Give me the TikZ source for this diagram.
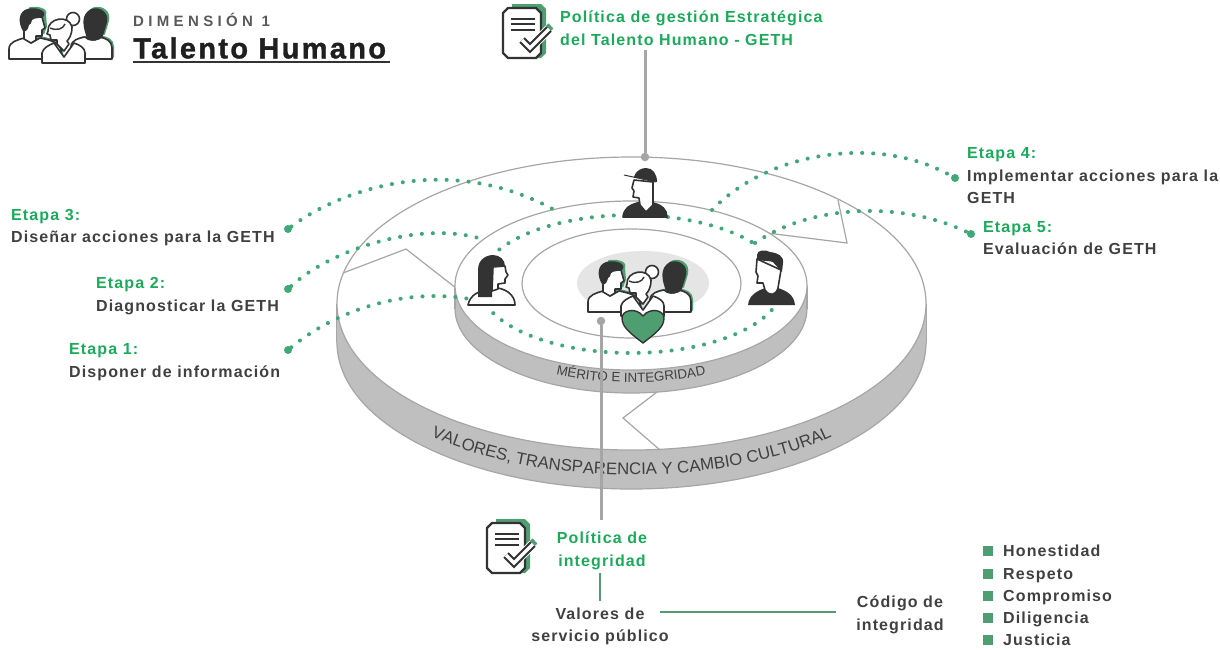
\documentclass[tikz,border=0pt]{standalone}
\usepackage{fontspec}
\usepackage{tikz}
\usetikzlibrary{shapes.geometric,decorations.text}
\setmainfont{Liberation Sans}
\newfontfamily\spaced[LetterSpace=7]{Liberation Sans}
\newfontfamily\wide[LetterSpace=29]{Liberation Sans}
\newfontfamily\heavy[LetterSpace=8,BoldFeatures={FakeBold=1.2}]{Liberation Sans}
\definecolor{inkdark}{HTML}{333333}
\definecolor{textdark}{HTML}{404040}
\definecolor{titlegreen}{HTML}{1AAB5A}
\definecolor{leafgreen}{HTML}{4F9E72}
\definecolor{dotgreen}{HTML}{3FA877}
\definecolor{rimgray}{HTML}{BFBFBF}
\definecolor{edgegray}{HTML}{A6A6A6}
\tikzset{
	disc/.style={shape=ellipse,draw=edgegray,fill=white,inner sep=0pt,line width=1.2pt},
	rim/.style={disc,fill=rimgray},
	fold/.style={draw=edgegray,line width=1.2pt},
	leader/.style={draw=edgegray,line width=3pt},
	greenline/.style={draw=leafgreen,line width=2.8pt},
	dotline/.style={draw=dotgreen,line width=4pt,line cap=round,dash pattern=on 0.1pt off 10.9pt},
	enddot/.style={shape=circle,fill=dotgreen,inner sep=0pt,minimum size=8pt},
	graydot/.style={shape=circle,fill=edgegray,inner sep=0pt,minimum size=8.5pt},
	stage/.style={align=left,font=\spaced\bfseries\fontsize{16}{22.5}\selectfont,text=textdark,inner sep=0pt},
	centred/.style={align=center,font=\spaced\bfseries\fontsize{16}{22.5}\selectfont,text=textdark,inner sep=0pt},
	bullet/.style={shape=rectangle,fill=leafgreen,inner sep=0pt,minimum size=10pt},
	virtue/.style={anchor=base west,font=\spaced\bfseries\fontsize{16}{22}\selectfont,text=textdark,inner sep=0pt},
	person/.style={draw=inkdark,fill=white,line width=1.6pt,line join=round},
	hair/.style={fill=inkdark},
	pics/docicon/.style={code={
		\fill[leafgreen] (9,-4) -- (38,-4) -- (43,1) -- (43,45) -- (38,50) -- (9,50) -- cycle;
		\draw[leafgreen,line width=7pt] (30,34) -- (48,18);
		\draw[person,line width=2.4pt] (5,0) -- (33,0) -- (38,5) -- (38,45) -- (33,50) -- (5,50) -- (0,45) -- (0,5) -- cycle;
		\foreach \liney in {11,16,22}
			\draw[inkdark,line width=1.8pt] (8,\liney) -- (32,\liney);
		\draw[white,line width=9.5pt] (19,32) -- (27,40) -- (46,21);
		\draw[inkdark,line width=7.5pt,line join=miter] (19,32) -- (27,40) -- (46,21);
		\draw[white,line width=3.5pt,line join=miter] (19,32) -- (27,40) -- (46,21);
	}},
	pics/teamicon/.style={code={
		% right person with its green shadow
		\begin{scope}[shift={(2,-1.5)}]
			\fill[leafgreen] (62,52) -- (62,40) .. controls (62,33) and (70,31) .. (76,30) -- (90,30) .. controls (97,31) and (103,34) .. (103,41) -- (103,52) -- cycle;
			\fill[leafgreen] (78,31) .. controls (74,20) and (71,8) .. (82,2) .. controls (92,-1) and (100,6) .. (98,15) .. controls (97,20) and (95,24) .. (94,29) -- cycle;
		\end{scope}
		\draw[person] (62,52) -- (62,40) .. controls (62,33) and (70,31) .. (76,30) .. controls (80,34) and (86,34) .. (90,30) .. controls (97,31) and (103,34) .. (103,41) -- (103,52) -- cycle;
		\fill[hair] (78,31) .. controls (74,20) and (71,8) .. (82,2) .. controls (92,-1) and (100,6) .. (98,15) .. controls (97,20) and (95,24) .. (94,29) .. controls (90,35) and (82,35) .. (78,31) -- cycle;
		% left man
		\begin{scope}[shift={(2,-1.5)}]
			\fill[leafgreen] (18,2) .. controls (24,0) and (38,2) .. (35,9) -- (36,21) -- (33,29) -- (20,18) -- cycle;
			\fill[leafgreen] (15,31) -- (31,31) .. controls (42,33) and (50,36) .. (52,42) -- (52,52) -- (20,52) -- cycle;
		\end{scope}
		\draw[person] (0,52) -- (0,42) .. controls (0,35) and (8,33) .. (15,31) -- (22,36) -- (31,31) .. controls (42,33) and (50,36) .. (52,42) -- (52,52) -- cycle;
		\draw[person] (15,32) -- (15,18) -- (20,10) -- (33,10) -- (36,21) -- (33,23) -- (33,29) -- (27,29) -- (27,33) -- (22,36) -- cycle;
		\fill[hair] (14,24) .. controls (9,16) and (9,5) .. (18,2) .. controls (24,0) and (38,2) .. (35,9) .. controls (33,12) and (26,10) .. (23,13) .. controls (22,16) and (22,18) .. (20,18) .. controls (19,22) and (18,25) .. (14,24) -- cycle;
		% woman in front
		\draw[person] (33,56) -- (33,46) .. controls (34,41) and (40,38) .. (45,36) -- (55,50) -- (65,36) .. controls (71,38) and (76,41) .. (76,46) -- (76,56) -- cycle;
		\draw[person] (64,12) circle (6.5);
		\draw[person] (39,24) .. controls (38,11) and (60,7) .. (63,20) .. controls (63,28) and (60,32) .. (58,34) -- (60,37) -- (55,44) -- (48,37) -- (48,33) -- (42,33) -- (41,28) -- (38,27) -- cycle;
		\draw[inkdark,line width=1.4pt] (41,21) .. controls (48,24) and (54,22) .. (56,17);
	}}
}
\begin{document}
\begin{tikzpicture}[x=1pt,y=-1pt]
	\useasboundingbox (0,0) rectangle (1220,649);

	% outer disc
	\node[rim,minimum width=589pt,minimum height=293pt] (outerrim) at (631.5,342.5) {};
	\fill[rimgray] (336.5,303.5) rectangle (926.5,342.5);
	\draw[fold] (336.5,303.5) -- (336.5,342.5);
	\draw[fold] (926.5,303.5) -- (926.5,342.5);
	\node[disc,minimum width=589pt,minimum height=293pt] (outerface) at (631.5,303.5) {};
	\path[decorate,decoration={text along path,text align=center,
		text format delimiters={|}{|},
		text={|\fontsize{16.8}{17}\selectfont\color{textdark}|VALORES, TRANSPARENCIA Y CAMBIO CULTURAL}}]
		plot[domain=140:40,samples=50] ({631.5+294*cos(\x)},{331+144*sin(\x)});

	% folds of the outer ring
	\draw[fold] (343,273) -- (406,249) -- (456,288);
	\draw[fold] (767,233) -- (847,243) -- (838,200);
	\draw[fold] (657,392) -- (623,418) -- (660,450);

	% inner disc
	\node[rim,minimum width=352pt,minimum height=169pt] (innerrim) at (631,308.5) {};
	\fill[rimgray] (455,285.5) rectangle (807,308.5);
	\draw[fold] (455,285.5) -- (455,308.5);
	\draw[fold] (807,285.5) -- (807,308.5);
	\node[disc,minimum width=352pt,minimum height=169pt] (innerface) at (631,285.5) {};
	\path[decorate,decoration={text along path,text align=center,
		text format delimiters={|}{|},
		text={|\fontsize{13.4}{14}\selectfont\color{textdark}|MÉRITO E INTEGRIDAD}}]
		plot[domain=122:58,samples=40] ({631+176*cos(\x)},{298+84.5*sin(\x)});
	\node[disc,minimum width=219pt,minimum height=109pt] (core) at (631.5,283.5) {};
	\node[shape=ellipse,fill=black!10,inner sep=0pt,minimum width=132pt,minimum height=64pt] (halo) at (643,283) {};

	% dotted ring on the inner disc
	\draw[dotline] plot[domain=210:264,samples=20] ({631+152*cos(\x)},{284+69*sin(\x)});
	\draw[dotline] plot[domain=284:324,samples=20] ({631+152*cos(\x)},{284+69*sin(\x)});
	\draw[dotline] plot[domain=155:20,samples=50] ({631+152*cos(\x)},{284+69*sin(\x)});

	% stage labels
	\node[stage,anchor=west] (etapa3) at (11,227.5) {\textcolor{titlegreen}{Etapa 3:}\\Diseñar acciones para la GETH};
	\node[stage,anchor=west] (etapa2) at (96,296) {\textcolor{titlegreen}{Etapa 2:}\\Diagnosticar la GETH};
	\node[stage,anchor=west] (etapa1) at (69,362) {\textcolor{titlegreen}{Etapa 1:}\\Disponer de información};
	\node[stage,anchor=west] (etapa4) at (967,176) {\textcolor{titlegreen}{Etapa 4:}\\Implementar acciones para la\\GETH};
	\node[stage,anchor=west] (etapa5) at (983,238) {\textcolor{titlegreen}{Etapa 5:}\\Evaluación de GETH};

	% stage connectors
	\node[enddot] (dot3) at (288,229) {};
	\node[enddot] (dot2) at (288,289) {};
	\node[enddot] (dot1) at (288,350) {};
	\node[enddot] (dot4) at (955,178) {};
	\node[enddot] (dot5) at (971,234) {};
	\coordinate (end3) at (558,212);
	\coordinate (end2) at (482,239);
	\coordinate (end1) at (475,300);
	\coordinate (end4) at (712,210);
	\coordinate (end5) at (755,243);
	\draw[dotline] (dot3) .. controls (340,190) and (450,150) .. (end3);
	\draw[dotline] (dot2) .. controls (330,250) and (420,220) .. (end2);
	\draw[dotline] (dot1) .. controls (330,315) and (400,285) .. (end1);
	\draw[dotline] (end4) .. controls (770,150) and (880,135) .. (dot4);
	\draw[dotline] (end5) .. controls (810,205) and (900,200) .. (dot5);

	% cap person
	\draw[person,fill=inkdark] (623,217) .. controls (624,208) and (630,205) .. (637,203) -- (653,203) .. controls (662,205) and (667,210) .. (667,217) -- cycle;
	\draw[person] (634,180) -- (632,188) -- (634,191) -- (633,197) -- (639,198) -- (640,205) -- (646,212) -- (653,205) -- (653,182) -- cycle;
	\fill[hair] (634,177) .. controls (636,170) and (642,168) .. (646,168) .. controls (653,168) and (657,174) .. (657,182) -- cycle;
	\draw[inkdark,line width=1pt] (624,175) -- (656,182);
	% woman
	\draw[person] (468,305) .. controls (470,295) and (478,291) .. (492,288) -- (498,288) .. controls (508,290) and (515,296) .. (515,305) -- cycle;
	\draw[person] (493,267) -- (505,266) -- (506,272) -- (508,275) -- (505,279) -- (505,283) -- (498,284) -- (498,289) -- (492,291) -- cycle;
	\fill[hair] (478,297) -- (478,270) .. controls (478,258) and (488,255) .. (493,255) .. controls (500,255) and (505,260) .. (505,266) -- (493,267) -- (492,297) -- cycle;
	% man
	\fill[inkdark] (748,305) .. controls (749,295) and (757,291) .. (765,288) -- (778,288) .. controls (787,291) and (794,295) .. (795,305) -- cycle;
	\draw[person] (757,259) -- (756,272) -- (758,276) -- (757,283) -- (763,283) -- (765,290) .. controls (770,297) and (776,295) .. (778,288) -- (781,270) -- cycle;
	\fill[hair] (757,255) .. controls (757,250) and (765,249) .. (770,252) .. controls (778,253) and (784,256) .. (783,263) -- (782,272) .. controls (778,267) and (775,265) .. (773,262) .. controls (768,260) and (762,262) .. (757,259) -- cycle;

	% group in the centre
	\pic at (588,260) {teamicon};
	\draw[draw=inkdark,fill=leafgreen,line width=1.4pt,line join=round] (643,343) .. controls (630,333) and (622,327) .. (622,318) .. controls (622,310) and (636,307) .. (643,316) .. controls (650,307) and (664,310) .. (664,318) .. controls (664,327) and (656,333) .. (643,343) -- cycle;

	% title
	\pic at (9,7) {teamicon};
	\node[anchor=west,inner sep=0pt,text=black!65,font=\wide\bfseries\fontsize{15}{15}\selectfont] (dimension) at (133,20) {DIMENSIÓN 1};
	\node[anchor=west,inner sep=0pt,text=black!88,font=\heavy\bfseries\fontsize{29}{29}\selectfont] (talento) at (133,48) {Talento Humano};
	\coordinate (ruleleft) at (133,62);
	\coordinate (ruleright) at (390,62);
	\draw[inkdark,line width=1.6pt] (ruleleft) -- (ruleright);

	% upper policy
	\pic at (503,8) {docicon};
	\node[stage,anchor=west,text=titlegreen] (gethpolicy) at (560,28) {Política de gestión Estratégica\\del Talento Humano - GETH};
	\coordinate (gethfoot) at (645,50);
	\node[graydot] (gethdot) at (645,157) {};
	\draw[leader] (gethfoot) -- (gethdot);

	% lower policy
	\node[graydot] (coredot) at (601,321) {};
	\coordinate (corefoot) at (601,520);
	\draw[leader] (coredot) -- (corefoot);
	\pic at (487,523) {docicon};
	\node[centred,text=titlegreen] (integridad) at (602,551) {Política de\\integridad};
	\node[centred] (valores) at (600,626.5) {Valores de\\servicio público};
	\node[centred] (codigo) at (900,615) {Código de\\integridad};
	\coordinate (stemtop) at (600,573);
	\coordinate (stembottom) at (600,601);
	\draw[greenline] (stemtop) -- (stembottom);
	\coordinate (barleft) at (660,612);
	\coordinate (barright) at (836,612);
	\draw[greenline] (barleft) -- (barright);

	% list of values
	\node[bullet] (b1) at (988,551) {};
	\node[bullet] (b2) at (988,573.5) {};
	\node[bullet] (b3) at (988,595.5) {};
	\node[bullet] (b4) at (988,618) {};
	\node[bullet] (b5) at (988,640) {};
	\node[virtue] (v1) at (1003,556.5) {Honestidad};
	\node[virtue] (v2) at (1003,579) {Respeto};
	\node[virtue] (v3) at (1003,601) {Compromiso};
	\node[virtue] (v4) at (1003,623.5) {Diligencia};
	\node[virtue] (v5) at (1003,645.5) {Justicia};
\end{tikzpicture}
\end{document}
